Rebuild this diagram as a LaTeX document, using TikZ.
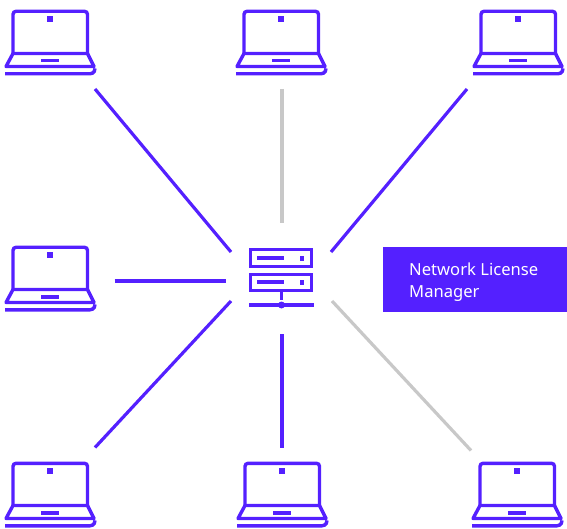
\documentclass[tikz,border=0pt]{standalone}
\usepackage{fontspec}
\setmainfont{Noto Sans}
\definecolor{vio}{HTML}{5420FF}
\definecolor{gry}{HTML}{C8C8C8}
\tikzset{
 x=1pt,y=-1pt,
 link/.style={line width=3.2pt,color=vio},
 linkoff/.style={line width=3.2pt,color=gry},
 lap/.style={line width=3.4pt,color=vio},
 pics/laptop/.style={code={
  \draw[lap,rounded corners=3pt] (13,54)--(13,11.3)--(87.5,11.3)--(87.5,54);
  \fill[vio] (47,16) rectangle (53,22);
  \draw[lap,line join=round] (6,66.5)--(13,53.5)--(87.5,53.5)--(94,66.5)--cycle;
  \fill[vio] (41,58.7) rectangle (59,62.5);
  \draw[lap] (5,73.8)--(90,73.8) arc[start angle=90,end angle=-5,x radius=5pt,y radius=-5pt];
 }},
 licbox/.style={fill=vio,text=white,minimum width=184pt,minimum height=65pt,inner sep=0pt},
 lictext/.style={anchor=base west,inner sep=0pt,text=white,font=\fontsize{16.6}{20}\selectfont},
}
\begin{document}
\begin{tikzpicture}
\useasboundingbox (0,0) rectangle (567,529);
\pic at (0,0) {laptop};
\pic at (231,0) {laptop};
\pic at (468,0) {laptop};
\pic at (0,236) {laptop};
\pic at (0,452) {laptop};
\pic at (232,452) {laptop};
\pic at (467,452) {laptop};
% server
\draw[vio,line width=3.4pt] (250.7,249.7) rectangle (311.3,266.3);
\draw[vio,line width=3.4pt] (250.7,274.7) rectangle (311.3,290.3);
\fill[vio] (257,256) rectangle (284,260);
\fill[vio] (257,280) rectangle (284,284);
\fill[vio] (299.5,256) rectangle (304,260.5);
\fill[vio] (299.5,280) rectangle (304,284.5);
\fill[vio] (280,290) rectangle (283,300);
\fill[vio] (249,303) rectangle (314,307);
\fill[vio] (281.5,305) circle (3.5pt);
% label
\node[licbox,anchor=north west] (lic) at (383,247) {};
\node[lictext] (l1) at (409,276) {Network License};
\node[lictext] (l2) at (409,297) {Manager};
% connectors
\coordinate (a1) at (95,89); \coordinate (a2) at (231,252);
\coordinate (b1) at (282,89); \coordinate (b2) at (282,223);
\coordinate (c1) at (467,89); \coordinate (c2) at (331,252);
\coordinate (d1) at (114.5,281); \coordinate (d2) at (226,281);
\coordinate (e1) at (95,447.5); \coordinate (e2) at (231,301);
\coordinate (f1) at (282,447.5); \coordinate (f2) at (282,334);
\coordinate (g1) at (471,450.5); \coordinate (g2) at (332,301);
\draw[link] (a1)--(a2);
\draw[linkoff] (b1)--(b2);
\draw[link] (c1)--(c2);
\draw[link] (d1)--(d2);
\draw[link] (e1)--(e2);
\draw[link] (f1)--(f2);
\draw[linkoff] (g1)--(g2);
\end{tikzpicture}
\end{document}
